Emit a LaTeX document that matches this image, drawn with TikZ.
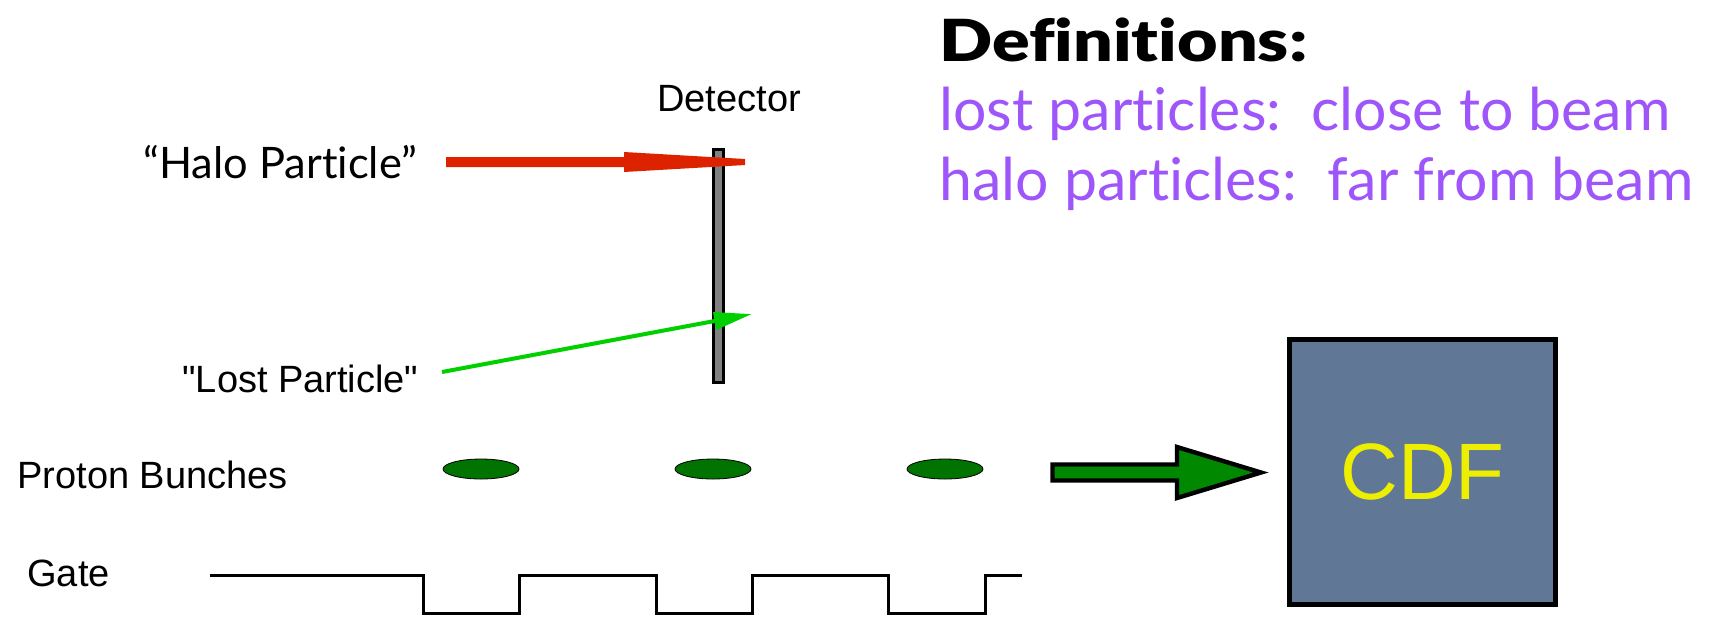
\documentclass[tikz,border=0pt]{standalone}
\usepackage{fontspec}
\usepackage{graphicx}
\usetikzlibrary{arrows.meta,shapes.geometric}
\newfontfamily\helv{Liberation Sans}
\newfontfamily\gill{Lato}[Ligatures={NoCommon}]
\newfontfamily\gillblack{Lato}[UprightFont={* Black}, Ligatures={NoCommon}]
\definecolor{halored}{RGB}{221,34,0}
\definecolor{lostgreen}{RGB}{0,208,0}
\definecolor{defpurple}{RGB}{158,86,250}
\definecolor{bunchgreen}{RGB}{0,115,0}
\definecolor{arrowgreen}{RGB}{0,136,0}
\definecolor{cdfblue}{RGB}{96,120,150}
\definecolor{cdfyellow}{RGB}{238,238,0}
\definecolor{detgray}{RGB}{128,128,128}
\tikzset{
  helvlab/.style={font=\helv\fontsize{19}{22}\selectfont, anchor=base west, inner sep=0pt},
  gilllab/.style={font=\gill\fontsize{21.7}{24}\selectfont, anchor=base west, inner sep=0pt},
  defline/.style={font=\gill\fontsize{29.5}{34}\selectfont, text=defpurple, anchor=base west, inner sep=0pt},
  deftitle/.style={font=\gillblack\fontsize{29}{32}\selectfont, anchor=base west, inner sep=0pt},
  bunch/.style={ellipse, draw=black, line width=0.4pt, fill=bunchgreen, minimum width=38pt, minimum height=10pt, inner sep=0pt},
  detbar/.style={draw=black, fill=detgray, line width=1.5pt},
  cdfbox/.style={draw=black, fill=cdfblue, line width=2.5pt, minimum width=133pt, minimum height=132.5pt, inner sep=0pt,
    text=cdfyellow, font=\helv\fontsize{40}{44}\selectfont},
  gatewave/.style={draw=black, line width=1.5pt},
  lostarrow/.style={draw=lostgreen, line width=2pt, -{Triangle[length=19pt, width=8.5pt]}},
  blockarrow/.style={draw=black, fill=arrowgreen, line width=2.2pt, line join=miter},
}
\begin{document}
\begin{tikzpicture}[x=0.5pt, y=-0.5pt]
\useasboundingbox (0,0) rectangle (1711,617);
% texts
\node[deftitle] (deft) at (939,61.5) {\scalebox{1.205}[1]{Definitions:}};
\node[defline] (def1) at (939,130) {lost particles:\ \ close to beam};
\node[defline] (def2) at (939,200) {halo particles:\ \ far from beam};
\node[helvlab] (det) at (657,111) {Detector};
\node[gilllab] (halo) at (143,178) {“Halo Particle”};
\node[helvlab] (lost) at (182,392) {"Lost Particle"};
\node[helvlab] (proton) at (17,488) {Proton Bunches};
\node[helvlab] (gate) at (27,586) {Gate};
% detector
\draw[detbar] (713.5,149.5) rectangle (723.5,382.5);
\coordinate (detector) at (718.5,266);
% halo arrow
\coordinate (rs) at (446,162);
\fill[halored] (rs) ++(0,-5) -- ++(178,0) -- ++(0,-5) -- ++(121,7) -- ++(0,6) -- ++(-121,7) -- ++(0,-5) -- ++(-178,0) -- cycle;
% lost arrow
\coordinate (ls) at (442,372);
\coordinate (lt) at (752,314);
\draw[lostarrow] (ls) -- (lt);
% bunches
\node[bunch] (b1) at (481,469) {};
\node[bunch] (b2) at (713,469) {};
\node[bunch] (b3) at (945,469) {};
% gate waveform
\coordinate (g0) at (210,575);
\draw[gatewave] (g0) -- (423,575) -- (423,613) -- (519,613) -- (519,575) -- (656,575) -- (656,613) -- (752,613) -- (752,575)
  -- (888,575) -- (888,613) -- (985,613) -- (985,575) -- (1022,575);
% CDF
\node[cdfbox] (cdf) at (1422.5,472) {CDF};
% block arrow
\coordinate (ga) at (1052.5,472.5);
\draw[blockarrow] (ga) ++(0,-8) -- ++(124.5,0) -- ++(0,-17.5) -- ++(84,25.5) -- ++(-84,25.5) -- ++(0,-17.5) -- ++(-124.5,0) -- cycle;
\end{tikzpicture}
\end{document}
